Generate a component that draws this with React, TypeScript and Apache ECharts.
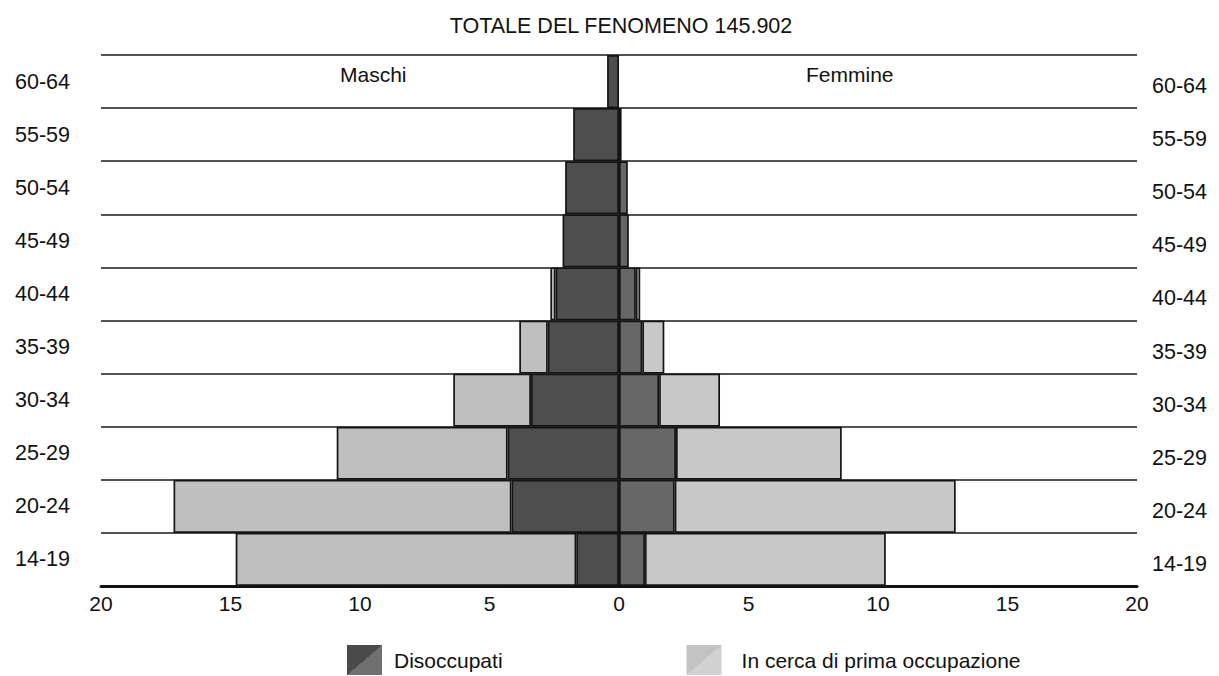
import React, { useEffect, useRef } from "react";
import * as echarts from "echarts";

const categories = ["14-19", "20-24", "25-29", "30-34", "35-39", "40-44", "45-49", "50-54", "55-59", "60-64"];
const maleUnemployed = [1.65, 4.15, 4.3, 3.4, 2.75, 2.45, 2.18, 2.08, 1.77, 0.46];
const maleFirstJob = [13.15, 13.05, 6.6, 3.0, 1.1, 0.2, 0, 0, 0, 0];
const femaleUnemployed = [1.0, 2.15, 2.2, 1.55, 0.9, 0.65, 0.38, 0.34, 0.1, 0];
const femaleFirstJob = [9.3, 10.85, 6.4, 2.35, 0.85, 0.17, 0, 0, 0, 0];
const xTicks = [-20, -15, -10, -5, 0, 5, 10, 15, 20];

const TITLE = "TOTALE DEL FENOMENO 145.902";
const FONT = "Liberation Sans, Arial, Helvetica, sans-serif";

export default function App() {
  const ref = useRef<HTMLDivElement>(null);
  useEffect(() => {
    if (!ref.current) return;
    const chart = echarts.init(ref.current, null, { renderer: "svg" });
    const toNull = (v: number) => (v === 0 ? null : v);
    const border = { borderColor: "#141414", borderWidth: 1.7 };
    const splitGrad = (a: string, b: string) =>
      new echarts.graphic.LinearGradient(0, 0, 1, 1, [
        { offset: 0, color: a },
        { offset: 0.5, color: a },
        { offset: 0.5, color: b },
        { offset: 1, color: b },
      ]);
    const option: any = {
      animation: false,
      backgroundColor: "#ffffff",
      textStyle: { fontFamily: FONT },
      title: {
        text: TITLE,
        left: 616,
        textAlign: "center",
        top: 10,
        textStyle: { fontFamily: FONT, fontSize: 21.5, fontWeight: "normal", color: "#111" },
      },
      grid: { left: 101, right: 82, top: 55, bottom: 90, containLabel: false },
      legend: {
        left: 347,
        top: 645,
        padding: 0,
        itemWidth: 35,
        itemHeight: 30,
        itemGap: 184,
        icon: "rect",
        selectedMode: false,
        textStyle: { fontFamily: FONT, fontSize: 21, color: "#111", padding: [0, 0, 0, 7] },
        data: [
          { name: "Disoccupati", itemStyle: { color: splitGrad("#4a4a4a", "#707070"), borderWidth: 0 } },
          {
            name: "In cerca di prima occupazione",
            itemStyle: { color: splitGrad("#c3c3c3", "#d1d1d1"), borderWidth: 0 },
            textStyle: { padding: [0, 0, 0, 15] },
          },
        ],
      },
      xAxis: {
        type: "value",
        min: xTicks[0],
        max: xTicks[xTicks.length - 1],
        interval: 5,
        axisLine: { show: true, lineStyle: { color: "#111", width: 3 } },
        axisTick: { show: false },
        splitLine: { show: false },
        axisLabel: {
          formatter: (v: number) => String(Math.abs(v)),
          fontFamily: FONT,
          fontSize: 21,
          color: "#111",
          margin: 7,
        },
      },
      yAxis: [
        {
          type: "category",
          data: categories,
          position: "left",
          axisLine: { show: false },
          axisTick: { show: false },
          splitLine: { show: true, lineStyle: { color: "#1a1a1a", width: 1.5 } },
          axisLabel: { fontFamily: FONT, fontSize: 21.5, color: "#111", margin: 31 },
        },
        {
          type: "category",
          data: categories,
          position: "right",
          axisLine: { show: false },
          axisTick: { show: false },
          splitLine: { show: false },
          axisLabel: {
            fontFamily: FONT,
            fontSize: 21.5,
            color: "#111",
            margin: 15,
            formatter: (v: string) => `{r|${v}}`,
            rich: { r: { fontFamily: FONT, fontSize: 21.5, color: "#111", padding: [9, 0, 0, 0] } },
          },
        },
      ],
      graphic: [
        {
          type: "text",
          left: 340,
          top: 64,
          style: { text: "Maschi", font: `21px ${FONT}`, fill: "#111" },
        },
        {
          type: "text",
          left: 806,
          top: 64,
          style: { text: "Femmine", font: `21px ${FONT}`, fill: "#111" },
        },
      ],
      series: [
        {
          name: "Disoccupati",
          type: "bar",
          stack: "m",
          barWidth: "100%",
          barGap: "-100%",
          barCategoryGap: "0%",
          itemStyle: { color: "#4e4e4e", ...border },
          data: maleUnemployed.map((v) => toNull(-v)),
        },
        {
          name: "In cerca di prima occupazione",
          type: "bar",
          stack: "m",
          barWidth: "100%",
          barGap: "-100%",
          itemStyle: { color: "#bfbfbf", ...border },
          data: maleFirstJob.map((v) => toNull(-v)),
        },
        {
          name: "Disoccupati",
          type: "bar",
          stack: "f",
          barWidth: "100%",
          barGap: "-100%",
          itemStyle: { color: "#676767", ...border },
          data: femaleUnemployed.map(toNull),
        },
        {
          name: "In cerca di prima occupazione",
          type: "bar",
          stack: "f",
          barWidth: "100%",
          barGap: "-100%",
          itemStyle: { color: "#c8c8c8", ...border },
          data: femaleFirstJob.map(toNull),
        },
      ],
    };
    chart.setOption(option);
    return () => chart.dispose();
  }, []);
  return (
    <div
      ref={ref}
      style={{ position: "fixed", left: 0, top: 0, width: 1219, height: 676, background: "#fff" }}
    />
  );
}
